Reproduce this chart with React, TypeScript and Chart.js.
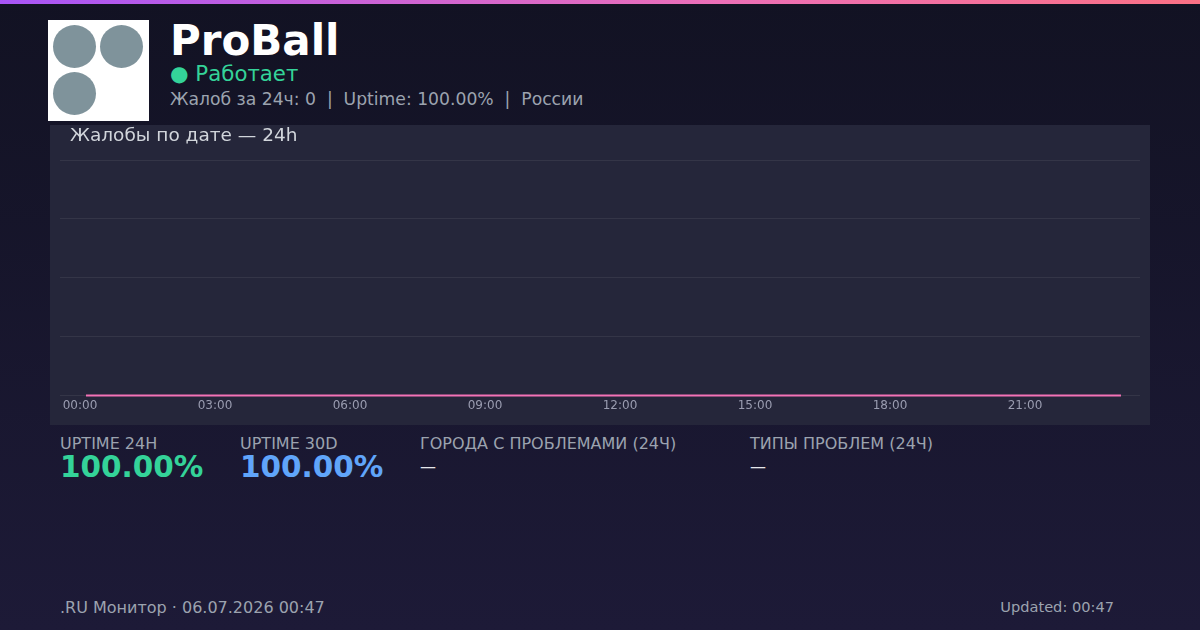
import React, { useEffect, useRef } from "react";
import { Chart, registerables } from "chart.js";

Chart.register(...registerables);

// ---- data ----
const pointTimes = [
  "00:08", "01:08", "02:08", "03:08", "04:08", "05:08", "06:08", "07:08",
  "08:08", "09:08", "10:08", "11:08", "12:08", "13:08", "14:08", "15:08",
  "16:08", "17:08", "18:08", "19:08", "20:08", "21:08", "22:08", "23:08",
];
const complaints = [0, 0, 0, 0, 0, 0, 0, 0, 0, 0, 0, 0, 0, 0, 0, 0, 0, 0, 0, 0, 0, 0, 0, 0];
const xTickHours = [0, 3, 6, 9, 12, 15, 18, 21];
const xRange = { min: -0.444, max: 23.556 };
const yRange = { min: 0, max: 4, step: 1 };

const stats = [
  { label: "UPTIME 24H", value: "100.00%", color: "#34d399", x: 60, big: true },
  { label: "UPTIME 30D", value: "100.00%", color: "#60a5fa", x: 240, big: true },
  { label: "ГОРОДА С ПРОБЛЕМАМИ (24Ч)", value: "—", color: "#e5e7eb", x: 420, big: false },
  { label: "ТИПЫ ПРОБЛЕМ (24Ч)", value: "—", color: "#e5e7eb", x: 750, big: false },
];

const FONT = '"DejaVu Sans", Verdana, sans-serif';

function toHours(t: string): number {
  const [h, m] = t.split(":").map(Number);
  return h + m / 60;
}

function pad2(n: number): string {
  return (n < 10 ? "0" : "") + n;
}

function TrendChart() {
  const ref = useRef<HTMLCanvasElement | null>(null);
  useEffect(() => {
    if (!ref.current) return;
    const chart = new Chart(ref.current, {
      type: "line",
      data: {
        datasets: [
          {
            data: pointTimes.map((t, i) => ({ x: toHours(t), y: complaints[i] })),
            borderColor: "#f472b6",
            borderWidth: 2,
            pointRadius: 0,
            tension: 0,
            fill: false,
            clip: 4,
          },
        ],
      },
      options: {
        animation: false,
        responsive: false,
        maintainAspectRatio: false,
        devicePixelRatio: 1,
        layout: { padding: { left: 10, right: 10, top: 35, bottom: 9 } },
        plugins: { legend: { display: false }, tooltip: { enabled: false } },
        scales: {
          x: {
            type: "linear",
            min: xRange.min,
            max: xRange.max,
            grid: { display: false, drawTicks: false },
            border: { display: false },
            afterBuildTicks: (axis: any) => {
              axis.ticks = xTickHours.map((v) => ({ value: v }));
            },
            ticks: {
              autoSkip: false,
              maxRotation: 0,
              padding: 3,
              color: "#9a9cb0",
              font: { family: FONT, size: 12 },
              callback: (v: any) => pad2(Number(v)) + ":00",
            },
          },
          y: {
            min: yRange.min,
            max: yRange.max,
            ticks: { display: false, stepSize: yRange.step },
            grid: { color: "rgba(255,255,255,0.07)", drawTicks: false, lineWidth: 1 },
            border: { display: false },
          },
        },
      },
    });
    return () => chart.destroy();
  }, []);
  return (
    <canvas
      ref={ref}
      width={1100}
      height={300}
      style={{ position: "absolute", left: 0, top: 0, width: 1100, height: 300 }}
    />
  );
}

function Logo() {
  const dot = (l: number, t: number) => (
    <div
      style={{
        position: "absolute",
        left: l,
        top: t,
        width: 43,
        height: 43,
        borderRadius: "50%",
        background: "#7f939b",
      }}
    />
  );
  return (
    <div style={{ position: "absolute", left: 48, top: 20, width: 101, height: 101, background: "#ffffff" }}>
      {dot(5, 5)}
      {dot(52, 5)}
      {dot(5, 52)}
    </div>
  );
}

export default function App() {
  useEffect(() => {
    document.body.style.margin = "0";
  }, []);
  const text = (extra: React.CSSProperties): React.CSSProperties => ({
    position: "absolute",
    whiteSpace: "nowrap",
    fontFamily: FONT,
    margin: 0,
    ...extra,
  });
  return (
    <div
      style={{
        position: "relative",
        width: 1200,
        height: 630,
        overflow: "hidden",
        background: "linear-gradient(180deg, #121223 0%, #1d1a37 100%)",
        fontFamily: FONT,
      }}
    >
      <div
        style={{
          position: "absolute",
          left: 0,
          top: 0,
          width: 1200,
          height: 4,
          background: "linear-gradient(90deg, #a855f7 0%, #ec6fb7 60%, #fb7185 100%)",
        }}
      />
      <Logo />
      <div style={text({ left: 170, top: 20, fontSize: 42, lineHeight: "42px", fontWeight: 700, color: "#ffffff" })}>
        ProBall
      </div>
      <div style={text({ left: 170, top: 63, fontSize: 21.3, lineHeight: "21.3px", color: "#34d399" })}>
        ● Работает
      </div>
      <div style={text({ left: 170, top: 91.4, fontSize: 17.2, lineHeight: "17.2px", color: "#9ca3af" })}>
        Жалоб за 24ч: 0&nbsp;&nbsp;|&nbsp;&nbsp;Uptime: 100.00%&nbsp;&nbsp;|&nbsp;&nbsp;России
      </div>

      <div style={{ position: "absolute", left: 50, top: 125, width: 1100, height: 300, background: "#25263a" }}>
        <TrendChart />
        <div style={text({ left: 20, top: 0.9, fontSize: 18.5, lineHeight: "18.5px", color: "#d1d5db" })}>
          Жалобы по дате — 24h
        </div>
      </div>

      {stats.map((s) => (
        <React.Fragment key={s.label}>
          <div style={text({ left: s.x, top: 435.5, fontSize: 16, lineHeight: "16px", color: "#9ca3af" })}>
            {s.label}
          </div>
          {s.big ? (
            <div
              style={text({
                left: s.x,
                top: 452.6,
                fontSize: 29.5,
                lineHeight: "29.5px",
                fontWeight: 700,
                color: s.color,
              })}
            >
              {s.value}
            </div>
          ) : (
            <div style={text({ left: s.x, top: 458.5, fontSize: 16, lineHeight: "16px", color: s.color })}>
              {s.value}
            </div>
          )}
        </React.Fragment>
      ))}

      <div style={text({ left: 60, top: 599.8, fontSize: 16, lineHeight: "16px", color: "#9ca3af" })}>
        .RU Монитор · 06.07.2026 00:47
      </div>
      <div style={text({ right: 86, top: 599.6, fontSize: 14.6, lineHeight: "14.6px", color: "#9ca3af" })}>
        Updated: 00:47
      </div>
    </div>
  );
}
